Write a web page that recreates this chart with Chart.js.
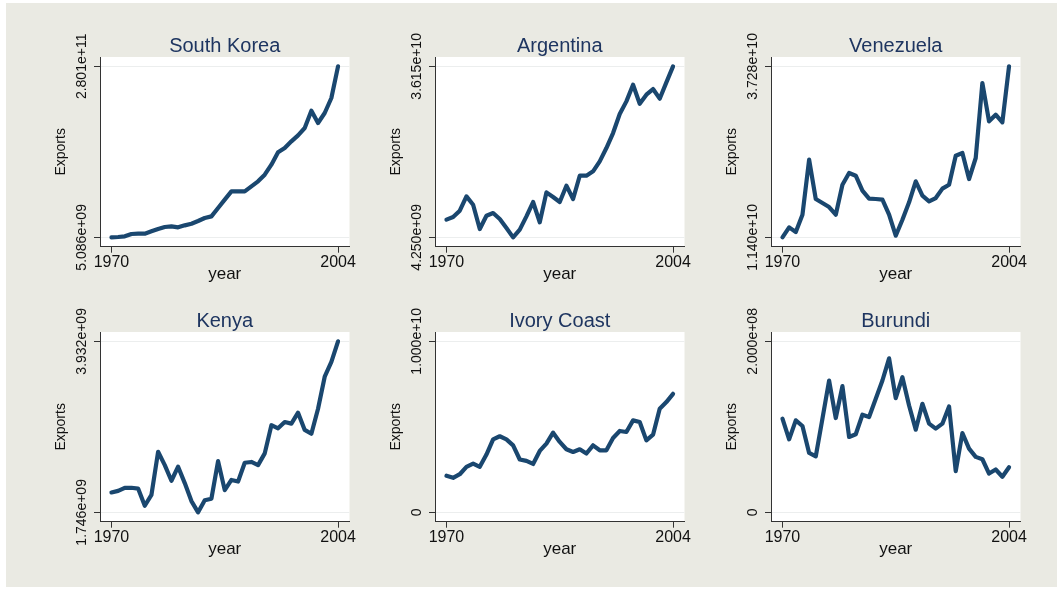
<!DOCTYPE html>
<html>
<head>
<meta charset="utf-8">
<script src="https://cdn.jsdelivr.net/npm/chart.js@4.4.1/dist/chart.umd.min.js"></script>
<style>
  body { margin: 0; background: #fff; width: 1057px; height: 589px; overflow: hidden; position: relative; }
  #bg { position: absolute; left: 6px; top: 3px; right: 0; bottom: 2px; background: #eaeae3; }
  canvas { position: absolute; }
</style>
</head>
<body>
<div id="bg"></div>
<canvas id="c0" width="360" height="290" style="left:0px;top:0px"></canvas>
<canvas id="c1" width="360" height="290" style="left:335px;top:0px"></canvas>
<canvas id="c2" width="360" height="290" style="left:671px;top:0px"></canvas>
<canvas id="c3" width="360" height="290" style="left:0px;top:275px"></canvas>
<canvas id="c4" width="360" height="290" style="left:335px;top:275px"></canvas>
<canvas id="c5" width="360" height="290" style="left:671px;top:275px"></canvas>
<script>
// DATA
const years = [1970, 1971, 1972, 1973, 1974, 1975, 1976, 1977, 1978, 1979,
  1980, 1981, 1982, 1983, 1984, 1985, 1986, 1987, 1988, 1989,
  1990, 1991, 1992, 1993, 1994, 1995, 1996, 1997, 1998, 1999,
  2000, 2001, 2002, 2003, 2004];
const xTicks = [1970, 2004];

const countries = ['South Korea', 'Argentina', 'Venezuela', 'Kenya', 'Ivory Coast', 'Burundi'];

const southKorea = [5.086e9, 5.62e9, 6.69e9, 10.45e9, 10.98e9, 10.98e9, 14.74e9, 18.49e9, 21.71e9, 22.78e9,
  21.17e9, 24.39e9, 27.07e9, 31.36e9, 36.18e9, 38.86e9, 52.26e9, 65.67e9, 79.07e9, 79.07e9,
  79.07e9, 87.11e9, 95.15e9, 105.88e9, 121.97e9, 141.80e9, 148.77e9, 159.49e9, 169.14e9, 180.93e9,
  208.82e9, 188.98e9, 205.07e9, 229.19e9, 280.1e9];
const argentina = [7.55e9, 8.04e9, 9.22e9, 11.90e9, 10.34e9, 5.80e9, 8.29e9, 8.79e9, 7.67e9, 5.99e9,
  4.25e9, 5.68e9, 8.17e9, 10.84e9, 7.05e9, 12.64e9, 11.77e9, 10.84e9, 13.89e9, 11.40e9,
  15.75e9, 15.75e9, 16.56e9, 18.43e9, 20.91e9, 23.71e9, 27.26e9, 29.62e9, 32.73e9, 29.18e9,
  30.86e9, 31.92e9, 30.12e9, 33.16e9, 36.15e9];
const venezuela = [11.40e9, 12.91e9, 12.21e9, 14.83e9, 23.16e9, 17.20e9, 16.60e9, 15.99e9, 14.83e9, 19.37e9,
  21.14e9, 20.73e9, 18.46e9, 17.25e9, 17.20e9, 17.10e9, 14.83e9, 11.65e9, 14.07e9, 16.70e9,
  19.88e9, 17.71e9, 16.85e9, 17.35e9, 18.77e9, 19.37e9, 23.76e9, 24.16e9, 20.23e9, 23.41e9,
  34.76e9, 28.96e9, 29.97e9, 28.81e9, 37.28e9];
const kenya = [2.00e9, 2.02e9, 2.06e9, 2.06e9, 2.05e9, 1.83e9, 1.97e9, 2.52e9, 2.35e9, 2.15e9,
  2.33e9, 2.12e9, 1.89e9, 1.746e9, 1.90e9, 1.92e9, 2.40e9, 2.03e9, 2.16e9, 2.14e9,
  2.38e9, 2.39e9, 2.35e9, 2.50e9, 2.86e9, 2.82e9, 2.90e9, 2.88e9, 3.02e9, 2.80e9,
  2.75e9, 3.07e9, 3.48e9, 3.67e9, 3.932e9];
const ivoryCoast = [2.14e9, 2.02e9, 2.23e9, 2.66e9, 2.85e9, 2.66e9, 3.38e9, 4.27e9, 4.45e9, 4.27e9,
  3.92e9, 3.09e9, 3.01e9, 2.83e9, 3.59e9, 4.02e9, 4.66e9, 4.12e9, 3.69e9, 3.53e9,
  3.69e9, 3.44e9, 3.92e9, 3.63e9, 3.63e9, 4.35e9, 4.76e9, 4.70e9, 5.38e9, 5.28e9,
  4.21e9, 4.54e9, 6.06e9, 6.45e9, 6.93e9];
const burundi = [109.5e6, 85.4e6, 107.6e6, 101.0e6, 69.5e6, 65.6e6, 109.5e6, 154.2e6, 110.3e6, 147.6e6,
  88.2e6, 91.3e6, 114.2e6, 111.5e6, 132.8e6, 154.2e6, 180.2e6, 133.6e6, 158.1e6, 125.0e6,
  96.7e6, 127.0e6, 103.7e6, 97.9e6, 103.7e6, 123.9e6, 48.2e6, 92.8e6, 74.6e6, 64.9e6,
  62.1e6, 45.4e6, 50.1e6, 41.6e6, 52.8e6];

const yTickValues = [
  [5.086e9, 2.801e11],
  [4.250e9, 3.615e10],
  [1.140e10, 3.728e10],
  [1.746e9, 3.932e9],
  [0, 1.000e10],
  [0, 2.000e8]
];
const yTickLabels = [
  ['5.086e+09', '2.801e+11'],
  ['4.250e+09', '3.615e+10'],
  ['1.140e+10', '3.728e+10'],
  ['1.746e+09', '3.932e+09'],
  ['0', '1.000e+10'],
  ['0', '2.000e+08']
];
const series = [southKorea, argentina, venezuela, kenya, ivoryCoast, burundi];

Chart.defaults.font.family = '"Liberation Sans", Arial, Helvetica, sans-serif';

// white plot region behind each graph
const plotBg = {
  id: 'plotBg',
  beforeDraw(chart) {
    const { ctx, chartArea: a } = chart;
    ctx.save();
    ctx.fillStyle = '#ffffff';
    ctx.fillRect(a.left, a.top, a.right - a.left, a.bottom - a.top);
    ctx.restore();
  }
};

countries.forEach((name, i) => {
  const lo = yTickValues[i][0], hi = yTickValues[i][1];
  const pad = (hi - lo) * 0.0547;
  const ctx = document.getElementById('c' + i).getContext('2d');
  new Chart(ctx, {
    type: 'line',
    data: {
      datasets: [{
        label: name,
        data: years.map((yr, k) => ({ x: yr, y: series[i][k] })),
        borderColor: '#1a476f',
        borderWidth: 4.2,
        borderJoinStyle: 'round',
        borderCapStyle: 'round',
        pointRadius: 0,
        tension: 0,
        fill: false
      }]
    },
    options: {
      responsive: false,
      animation: false,
      devicePixelRatio: 1,
      layout: { padding: { left: 0, top: 0, right: 10.5, bottom: 0 } },
      plugins: {
        legend: { display: false },
        tooltip: { enabled: false },
        title: {
          display: true,
          text: name,
          fullSize: false,
          color: '#1e3560',
          font: { size: 20, weight: 'normal', lineHeight: 1 },
          padding: { top: 36.3, bottom: 0.7 }
        }
      },
      scales: {
        x: {
          type: 'linear',
          min: 1968.28,
          max: 2005.72,
          afterBuildTicks: s => { s.ticks = xTicks.map(v => ({ value: v })); },
          afterFit: s => { s.height = 43.3; },
          grid: { drawOnChartArea: false, drawTicks: true, tickLength: 6, tickColor: '#333', tickWidth: 1 },
          border: { display: true, color: '#333', width: 1 },
          ticks: { padding: 0, color: '#111', font: { size: 16 }, maxRotation: 0, autoSkip: false,
                   callback: v => String(v) },
          title: { display: true, text: 'year', color: '#111', font: { size: 17 },
                   padding: { top: 0, bottom: 5.3 } }
        },
        y: {
          min: lo - pad,
          max: hi + pad,
          afterBuildTicks: s => { s.ticks = yTickValues[i].map(v => ({ value: v })); },
          afterFit: s => { s.width = 100; },
          grid: { color: '#eceeee', lineWidth: 1, drawTicks: true, tickLength: 6, tickColor: '#333', tickWidth: 1 },
          border: { display: true, color: '#333', width: 1 },
          ticks: { minRotation: 90, maxRotation: 90, crossAlign: 'center', padding: -21.3,
                   color: '#111', font: { size: 14 }, autoSkip: false,
                   callback: (v, idx) => yTickLabels[i][idx] },
          title: { display: true, text: 'Exports', color: '#111', font: { size: 14 },
                   padding: { top: 53.1, bottom: 0 } }
        }
      }
    },
    plugins: [plotBg]
  });
});
</script>
</body>
</html>
